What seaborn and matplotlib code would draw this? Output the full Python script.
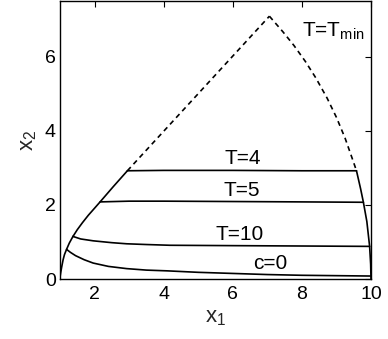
import numpy as np
import pandas as pd
import matplotlib
matplotlib.use("Agg")
import matplotlib.pyplot as plt
import seaborn as sns

# ---- data ----
left_solid_x = [1.0, 1.005, 1.02, 1.05, 1.09, 1.13, 1.19, 1.27, 1.37, 1.50, 1.65, 1.82, 2.0, 2.16, 2.54, 2.95]
left_solid_y = [0.0, 0.08, 0.17, 0.33, 0.52, 0.66, 0.80, 0.97, 1.14, 1.33, 1.52, 1.72, 1.91, 2.08, 2.49, 2.92]

left_dash_x = [2.95, 7.06]
left_dash_y = [2.92, 7.09]

right_dash_x = [7.06, 7.45, 7.77, 8.10, 8.40, 8.73, 9.00, 9.25, 9.45, 9.58]
right_dash_y = [7.09, 6.67, 6.30, 5.87, 5.43, 4.88, 4.36, 3.80, 3.27, 2.92]

right_solid_x = [9.58, 9.70, 9.78, 9.88, 9.96, 9.99, 10.0]
right_solid_y = [2.92, 2.43, 2.07, 1.55, 0.88, 0.40, 0.0]

t4_x = [2.95, 4.0, 6.0, 8.0, 9.58]
t4_y = [2.92, 2.93, 2.93, 2.92, 2.92]

t5_x = [2.16, 3.0, 4.0, 6.0, 8.0, 9.78]
t5_y = [2.08, 2.10, 2.10, 2.09, 2.08, 2.07]

t10_x = [1.37, 1.6, 1.96, 2.5, 2.93, 3.5, 4.18, 6.0, 8.0, 9.96]
t10_y = [1.15, 1.08, 1.03, 0.98, 0.95, 0.93, 0.91, 0.90, 0.89, 0.88]

c0_x = [1.19, 1.3, 1.45, 1.7, 1.96, 2.4, 2.93, 3.5, 4.1, 5.0, 6.0, 7.0, 8.0, 9.0, 10.0]
c0_y = [0.80, 0.72, 0.63, 0.52, 0.43, 0.34, 0.28, 0.24, 0.22, 0.18, 0.15, 0.12, 0.10, 0.09, 0.08]

labels = ["T=4", "T=5", "T=10", "c=0"]
label_x = [6.30, 6.25, 6.21, 7.08]
label_y = [3.26, 2.38, 1.21, 0.43]

x_ticks = [2, 4, 6, 8, 10]
y_ticks = [0, 2, 4, 6]

# ---- style ----
sns.set_style("white")
plt.rcParams["font.family"] = ["Liberation Sans", "DejaVu Sans"]
plt.rcParams["mathtext.fontset"] = "custom"
plt.rcParams["mathtext.rm"] = "Liberation Sans"
plt.rcParams["mathtext.it"] = "Liberation Sans"

fig = plt.figure(figsize=(3.88, 3.39), dpi=100)
ax = fig.add_axes([60 / 388, 1 - 279 / 339, 311 / 388, 278 / 339])

solid = dict(color="black", linewidth=1.2, sort=False, estimator=None, ax=ax, legend=False)

for xs, ys in [(left_solid_x, left_solid_y), (right_solid_x, right_solid_y),
               (t4_x, t4_y), (t5_x, t5_y), (t10_x, t10_y), (c0_x, c0_y)]:
    sns.lineplot(x=xs, y=ys, **solid)

for xs, ys in [(left_dash_x, left_dash_y), (right_dash_x, right_dash_y)]:
    l = sns.lineplot(x=xs, y=ys, **solid)
    l.lines[-1].set_linestyle((0, (3.0, 2.4)))

for t, x, y in zip(labels, label_x, label_y):
    ax.text(x, y, t, ha="center", va="center", fontsize=15, color="black")
ax.text(7.99, 6.54, r"T=T$_{\mathregular{min}}$", ha="left", va="baseline", fontsize=15, color="black")

ax.set_xlim(1, 10)
ax.set_ylim(0, 7.5)
ax.set_xticks(x_ticks)
ax.set_xticklabels([str(v) for v in x_ticks])
ax.set_yticks(y_ticks)
ax.set_yticklabels([str(v) for v in y_ticks])
ax.tick_params(direction="in", length=4, width=0.8, top=True, right=True,
               labelsize=14, colors="black")
ax.tick_params(axis="x", pad=5)
ax.tick_params(axis="y", pad=3)
for s in ax.spines.values():
    s.set_visible(True)
    s.set_color("black")
    s.set_linewidth(1.0)

ax.set_xlabel(r"x$_{\mathregular{1}}$", fontsize=16, labelpad=3)
ax.set_ylabel(r"x$_{\mathregular{2}}$", fontsize=16, labelpad=4)

fig.savefig("out.png", dpi=100)
